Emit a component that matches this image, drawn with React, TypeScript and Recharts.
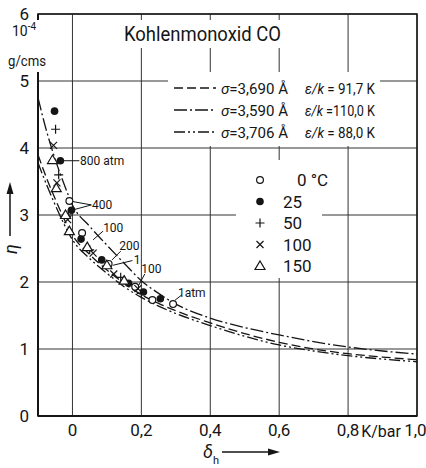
import {
  ComposedChart, Line, Scatter, XAxis, YAxis, CartesianGrid,
  ReferenceArea, ReferenceLine, ReferenceDot,
} from "recharts";

const FONT = "Roboto, 'Liberation Sans', sans-serif";
const INK = "#151515";

// theory curves, eta in 1e-4 g/cms
const DELTA = [-0.1, -0.075, -0.05, -0.025, 0, 0.05, 0.1, 0.15, 0.2, 0.25, 0.3, 0.4, 0.5, 0.6, 0.7, 0.8, 0.9, 1.0];
const ETA_A = [3.90, 3.55, 3.24, 2.95, 2.70, 2.41, 2.18, 1.98, 1.81, 1.68, 1.57, 1.39, 1.23, 1.10, 1.00, 0.93, 0.88, 0.84]; // 3,690 / 91,7
const ETA_B = [4.75, 4.25, 3.83, 3.47, 3.15, 2.83, 2.55, 2.28, 2.02, 1.83, 1.67, 1.46, 1.32, 1.21, 1.11, 1.03, 0.97, 0.925]; // 3,590 / 110,0
const ETA_C = [3.78, 3.45, 3.15, 2.87, 2.63, 2.35, 2.13, 1.93, 1.77, 1.64, 1.53, 1.35, 1.19, 1.06, 0.97, 0.90, 0.85, 0.81]; // 3,706 / 88,0

// measurements [delta_h, eta]
const T0 = [[-0.009, 3.21], [0.028, 2.73], [0.105, 2.27], [0.182, 1.93], [0.232, 1.73], [0.292, 1.67]];
const T25 = [[-0.052, 4.55], [-0.035, 3.81], [-0.003, 3.07], [0.025, 2.64], [0.085, 2.33], [0.163, 1.98], [0.206, 1.85], [0.255, 1.75]];
const T50 = [[-0.049, 4.28], [-0.04, 3.6], [-0.012, 3.0], [0.05, 2.48], [0.14, 2.07], [0.2, 1.83]];
const T100 = [[-0.055, 4.04], [-0.045, 3.48], [-0.014, 2.93], [0.06, 2.43], [0.12, 2.12], [0.19, 1.9]];
const T150 = [[-0.058, 3.82], [-0.047, 3.4], [-0.02, 3.0], [-0.009, 2.76], [0.043, 2.52], [0.1, 2.25], [0.15, 2.02]];

const X_TICKS = [0, 0.2, 0.4, 0.6, 0.8, 1.0];
const Y_TICKS = [0, 1, 2, 3, 4, 5, 6];

// pressure notes: text anchor and leader lines
const NOTES = [
  { text: "800 atm", x: 0.022, y: 3.81, leads: [[[-0.035, 3.81], [0.02, 3.81]]] },
  { text: "400", x: 0.057, y: 3.15, leads: [[[-0.009, 3.21], [0.055, 3.15]], [[-0.003, 3.07], [0.055, 3.15]]] },
  { text: "100", x: 0.089, y: 2.82, leads: [[[0.06, 2.63], [0.089, 2.76]]] },
  { text: "200", x: 0.136, y: 2.54, leads: [[[0.115, 2.33], [0.14, 2.46]]] },
  { text: "1", x: 0.178, y: 2.34, leads: [[[0.118, 2.25], [0.174, 2.32]]] },
  { text: "100", x: 0.2, y: 2.2, leads: [[[0.19, 1.93], [0.21, 2.12]]] },
  { text: "1atm", x: 0.306, y: 1.85, leads: [[[0.298, 1.73], [0.318, 1.81]]] },
];

const curveData = DELTA.map((d, i) => ({ x: d, a: ETA_A[i], b: ETA_B[i], c: ETA_C[i] }));
const pts = (arr: number[][]) => arr.map(([x, y]) => ({ x, y }));

const OpenDot = ({ cx, cy }: any) => <circle cx={cx} cy={cy} r={3.4} fill="#fff" stroke={INK} strokeWidth={1.2} />;
const FullDot = ({ cx, cy }: any) => <circle cx={cx} cy={cy} r={3.8} fill={INK} />;
const Plus = ({ cx, cy }: any) => (
  <path d={`M${cx - 4.5},${cy}H${cx + 4.5}M${cx},${cy - 4.5}V${cy + 4.5}`} stroke={INK} strokeWidth={1.2} />
);
const Cross = ({ cx, cy }: any) => (
  <path d={`M${cx - 3.5},${cy - 3.5}L${cx + 3.5},${cy + 3.5}M${cx - 3.5},${cy + 3.5}L${cx + 3.5},${cy - 3.5}`} stroke={INK} strokeWidth={1.2} />
);
const Tri = ({ cx, cy }: any) => (
  <path d={`M${cx},${cy - 5}L${cx + 5},${cy + 3.5}L${cx - 5},${cy + 3.5}Z`} fill="#fff" stroke={INK} strokeWidth={1.2} />
);

const SERIES = [
  { label: "0 °C", data: T0, shape: OpenDot },
  { label: "25", data: T25, shape: FullDot },
  { label: "50", data: T50, shape: Plus },
  { label: "100", data: T100, shape: Cross },
  { label: "150", data: T150, shape: Tri },
];

const CURVES = [
  { key: "a", dash: "9 4", sigma: "3,690", eps: "= 91,7 K" },
  { key: "b", dash: "13 3 2 3", sigma: "3,590", eps: "=110,0 K" },
  { key: "c", dash: "11 3 2 3 2 3", sigma: "3,706", eps: "= 88,0 K" },
];

const fmtX = (v: number) => (v === 0 ? "0" : v.toFixed(1).replace(".", ","));

const noteLabel = (text: string) => (p: any) => {
  const vb = p.viewBox || {};
  return (
    <text x={(vb.x ?? 0) + (vb.width ?? 0)} y={(vb.y ?? 0) + (vb.height ?? 0) / 2 + 4.5}
      fontSize={12} fontFamily={FONT} fill={INK}>{text}</text>
  );
};

export default function App() {
  const txt = { fontFamily: FONT, fill: INK };
  return (
    <div style={{ position: "absolute", left: 0, top: 0, width: 426, height: 468, background: "#fff" }}>
      <ComposedChart width={426} height={468} data={curveData} margin={{ top: 14, right: 9, bottom: 22, left: 0 }}>
        <CartesianGrid stroke="#333" strokeWidth={1} />
        <XAxis
          type="number" dataKey="x" domain={[-0.1, 1.0]} ticks={X_TICKS} tickFormatter={fmtX}
          height={30} tickSize={0} tickMargin={8} tickLine={false}
          axisLine={{ stroke: INK, strokeWidth: 2 }}
          tick={{ fill: INK, fontSize: 17, fontFamily: FONT }}
          allowDataOverflow
        />
        <YAxis
          type="number" domain={[0, 6]} ticks={Y_TICKS} width={38}
          tickSize={0} tickMargin={9} tickLine={false}
          axisLine={{ stroke: INK, strokeWidth: 2 }}
          tick={{ fill: INK, fontSize: 17, fontFamily: FONT }}
        />
        <ReferenceArea x1={-0.1} x2={1.0} y1={0} y2={6} fill="none" stroke={INK} strokeWidth={1.5} />
        {CURVES.map(c => (
          <Line key={c.key} type="monotone" dataKey={c.key} stroke={INK} strokeWidth={1.3}
            strokeDasharray={c.dash} dot={false} activeDot={false} isAnimationActive={false} />
        ))}
        {NOTES.flatMap((n, i) => n.leads.map((s, j) => (
          <ReferenceLine key={`l${i}-${j}`} segment={[{ x: s[0][0], y: s[0][1] }, { x: s[1][0], y: s[1][1] }]}
            stroke={INK} strokeWidth={1} />
        )))}
        {NOTES.map((n, i) => (
          <ReferenceDot key={`n${i}`} x={n.x} y={n.y} r={0.01} fill="none" stroke="none"
            label={noteLabel(n.text)} />
        ))}
        {SERIES.map(s => (
          <Scatter key={s.label} data={pts(s.data)} dataKey="y" shape={s.shape} isAnimationActive={false} />
        ))}
      </ComposedChart>

      <svg width={426} height={468} style={{ position: "absolute", left: 0, top: 0, pointerEvents: "none" }}>
        {/* paper cut-outs behind the texts */}
        <rect x={2} y={20} width={46} height={52} fill="#fff" />
        <rect x={118} y={20} width={168} height={28} fill="#fff" />
        <rect x={168} y={72} width={212} height={74} fill="#fff" />
        <rect x={236} y={160} width={86} height={118} fill="#fff" />

        <text x={12} y={36} fontSize={14} {...txt}>10<tspan dy={-6} fontSize={10}>-4</tspan></text>
        <text x={8} y={66} fontSize={15} textLength={38} lengthAdjust="spacingAndGlyphs" {...txt}>g/cms</text>

        <text x={124} y={41} fontSize={21} textLength={157} lengthAdjust="spacingAndGlyphs" {...txt}>Kohlenmonoxid CO</text>

        {CURVES.map((c, i) => {
          const y = 88 + i * 22;
          return (
            <g key={c.key}>
              <line x1={174} x2={216} y1={y} y2={y} stroke={INK} strokeWidth={1.3} strokeDasharray={c.dash} />
              <text x={221} y={y + 5.5} fontSize={14.5} textLength={67} lengthAdjust="spacingAndGlyphs" {...txt}>
                <tspan fontStyle="italic">σ</tspan>={c.sigma} Å
              </text>
              <text x={305} y={y + 5.5} fontSize={14.5} textLength={70} lengthAdjust="spacingAndGlyphs" {...txt}>
                <tspan fontStyle="italic">ε/k</tspan> {c.eps}
              </text>
            </g>
          );
        })}

        {SERIES.map((s, i) => {
          const y = 180 + i * 21.5;
          const Shape = s.shape;
          return (
            <g key={s.label}>
              <Shape cx={260} cy={y} />
              <text x={i === 0 ? 297 : 283} y={y + 6} fontSize={17} {...txt}>{s.label}</text>
            </g>
          );
        })}

        <text x={381} y={437} fontSize={16} textAnchor="middle" {...txt}>K/bar</text>

        {/* axis names with arrows */}
        <line x1={10} x2={10} y1={236} y2={190} stroke={INK} strokeWidth={1.5} />
        <path d="M10,182 L13.5,194 L6.5,194 Z" fill={INK} />
        <text transform="translate(17,254) rotate(-90)" fontSize={18} fontStyle="italic" {...txt}>η</text>

        <text x={203} y={458} fontSize={18} fontStyle="italic" {...txt}>δ</text>
        <text x={213} y={464} fontSize={11} {...txt}>h</text>
        <line x1={222} x2={270} y1={452} y2={452} stroke={INK} strokeWidth={1.5} />
        <path d="M280,452 L268,455.5 L268,448.5 Z" fill={INK} />
      </svg>
    </div>
  );
}
